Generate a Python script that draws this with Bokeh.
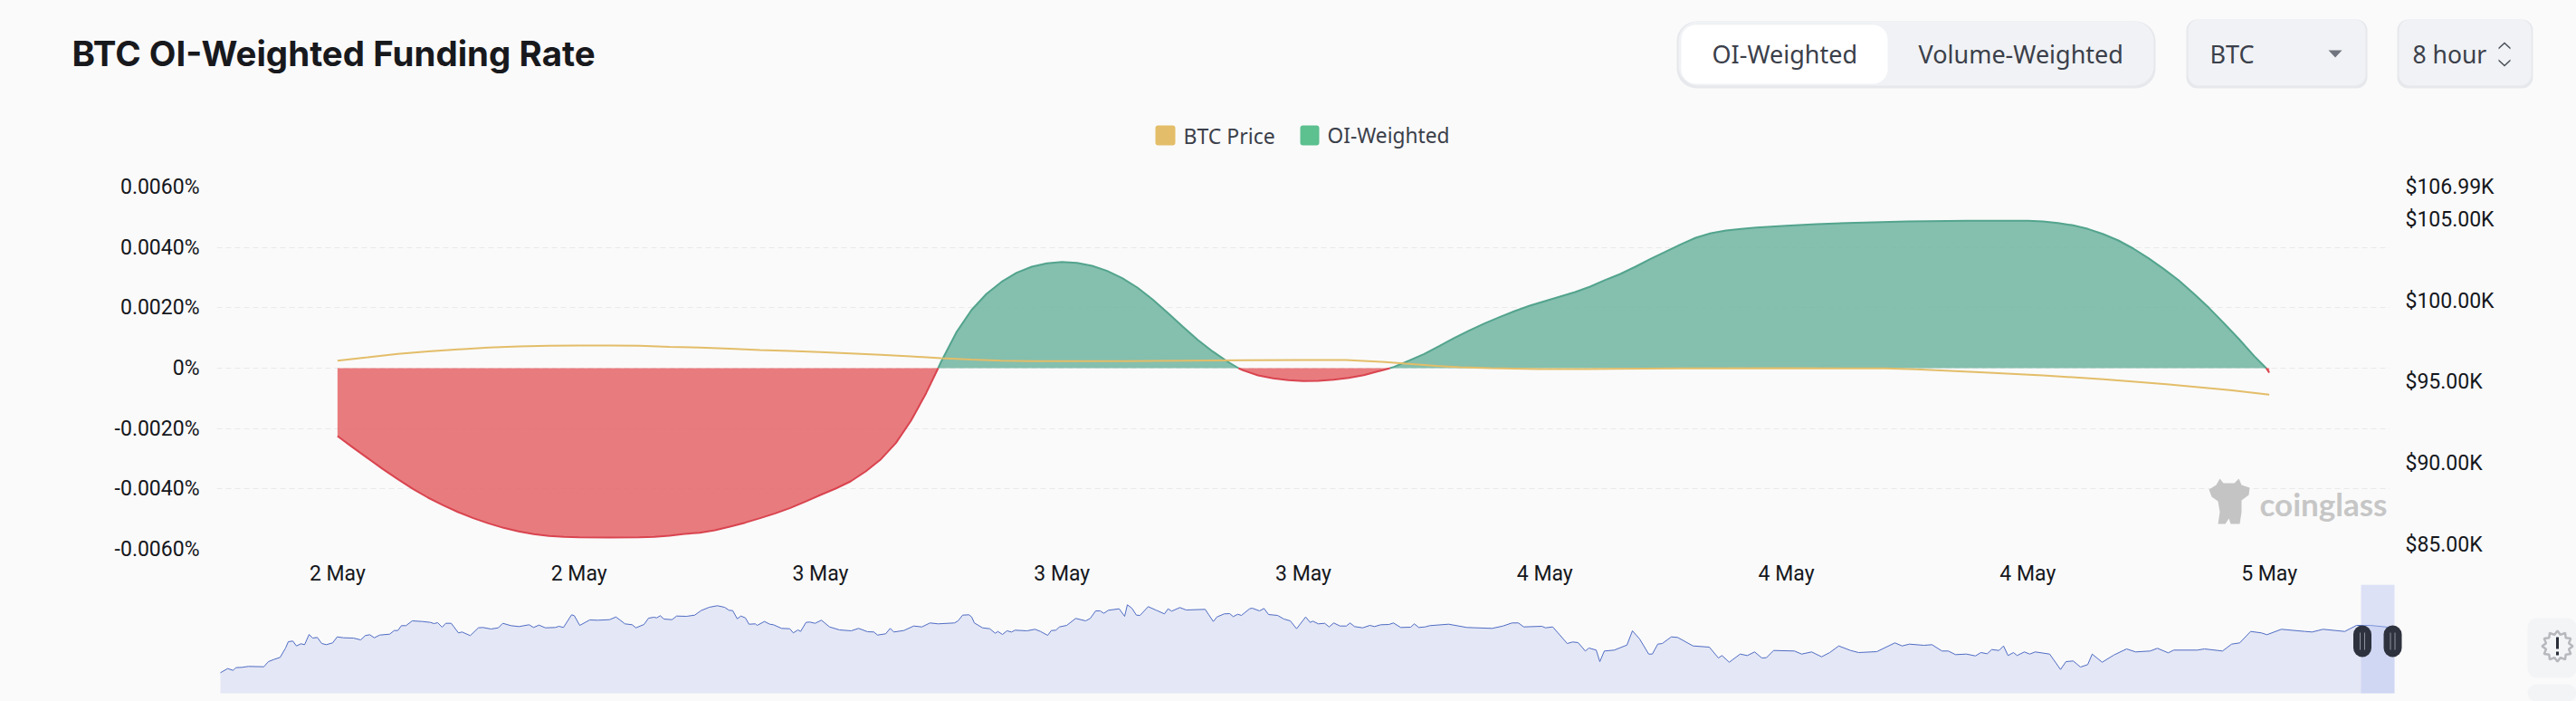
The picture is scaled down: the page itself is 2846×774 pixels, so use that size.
import numpy as np
from bokeh.embed import file_html
from bokeh.layouts import column
from bokeh.models import BoxAnnotation, FixedTicker, Label, LinearAxis, PolyAnnotation, Range1d
from bokeh.plotting import figure
from bokeh.resources import INLINE

# funding rate, hours since the first bar (8h per tick)
funding_hours = [0, .5, 1, 1.5, 2, 2.5, 3, 3.5, 4, 4.5, 5, 5.5, 6, 6.5, 7, 7.5, 8, 9, 10, 10.5, 11, 11.5, 12, 12.5, 13,
                 13.5, 14, 14.5, 15, 15.5, 16, 16.5, 17, 17.5, 18, 18.5, 19, 19.5, 19.9, 20, 20.5, 21, 21.5, 22, 22.5,
                 23, 23.5, 24, 24.5, 25, 25.5, 26, 26.5, 27, 27.5, 28, 28.5, 29, 29.5, 29.85, 30, 30.5, 31, 31.5, 32,
                 32.5, 33, 33.5, 34, 34.5, 34.87, 35, 35.5, 36, 36.5, 37, 37.5, 38, 38.5, 39, 39.5, 40, 40.5, 41, 41.5,
                 42, 42.5, 43, 43.5, 44, 44.5, 45, 45.5, 46, 46.5, 47, 48, 49, 50, 52, 54, 55, 56, 56.5, 57, 57.5, 58,
                 58.5, 59, 59.5, 60, 60.5, 61, 61.5, 62, 62.5, 63, 63.5, 63.9, 64]
funding_rate = [-.00225, -.00262, -.00298, -.00334, -.00368, -.004, -.00429, -.00454, -.00477, -.00497, -.00514,
                -.00529, -.00541, -.0055, -.00556, -.00559, -.0056, -.00561, -.0056, -.00559, -.00555, -.00549, -.00545,
                -.00537, -.00525, -.00512, -.00497, -.00481, -.00463, -.00442, -.0042, -.00399, -.00375, -.00342,
                -.00302, -.00248, -.00174, -.00083, 0, .00022, .00118, .00192, .00246, .00286, .00316, .00336, .00347,
                .00352, .00349, .00339, .00322, .00298, .00267, .00228, .00184, .00138, .00094, .00055, .00021, 0,
                -.00007, -.00024, -.00034, -.0004, -.00043, -.00042, -.00038, -.00032, -.00023, -.0001, 0, .00004,
                .00025, .00047, .00073, .001, .00125, .00148, .00169, .00189, .00207, .00222, .00237, .00252, .0027,
                .00292, .00312, .00336, .00362, .00386, .0041, .00432, .00447, .00456, .00461, .00466, .00472, .00477,
                .00481, .00486, .00488, .00488, .00488, .00486, .00481, .00473, .00461, .00444, .00423, .00396, .00364,
                .00329, .00291, .00247, .002, .00149, .00096, .0004, 0, -.00015]

# BTC price in $K
price_hours = [0, 1, 2, 3, 4, 5, 6, 7, 8, 9, 10, 11, 12, 13, 14, 15, 16, 17, 18, 19, 20, 21, 22, 23, 24, 26, 28, 30, 32,
               33.4, 34.6, 35.4, 36.4, 37.2, 38.2, 39.8, 41.3, 44.4, 48, 51.3, 52.3, 54.4, 56.5, 58.5, 60.6, 62.7, 64]
price_k = [96.32, 96.52, 96.73, 96.88, 97.01, 97.12, 97.19, 97.23, 97.25, 97.25, 97.23, 97.17, 97.12, 97.05, 96.97,
           96.91, 96.84, 96.76, 96.67, 96.58, 96.47, 96.38, 96.32, 96.28, 96.28, 96.28, 96.32, 96.34, 96.36, 96.35,
           96.24, 96.13, 96.0, 95.91, 95.85, 95.8, 95.8, 95.84, 95.85, 95.84, 95.78, 95.6, 95.41, 95.17, 94.87, 94.5,
           94.22]

# overview strip under the chart
mini_t = [0, 8, 14, 17, 24, 31, 48, 53, 59, 66, 72, 75, 80, 84, 89, 93, 98, 102, 107, 112, 117, 124, 129, 136, 147, 155,
          160, 165, 170, 176, 187, 192, 196, 200, 205, 212, 223, 232, 236, 240, 245, 249, 255, 263, 267, 276, 285, 290,
          299, 307, 312, 321, 330, 341, 346, 352, 359, 370, 374, 379, 388, 391, 397, 408, 417, 430, 437, 447, 455, 459,
          468, 473, 479, 482, 486, 490, 499, 504, 515, 524, 531, 540, 549, 557, 562, 566, 571, 575, 580, 584, 591, 593,
          601, 607, 611, 620, 629, 633, 638, 641, 647, 651, 657, 664, 673, 684, 697, 705, 715, 722, 726, 735, 740, 744,
          755, 766, 775, 784, 793, 811, 815, 820, 827, 830, 833, 842, 850, 856, 859, 864, 869, 874, 878, 891, 900, 906,
          914, 918, 923, 927, 935, 945, 956, 961, 967, 972, 976, 981, 993, 999, 1002, 1007, 1012, 1016, 1025, 1034,
          1043, 1047, 1051, 1060, 1067, 1088, 1092, 1097, 1101, 1109, 1115, 1119, 1124, 1128, 1137, 1140, 1148, 1153,
          1158, 1168, 1175, 1182, 1189, 1199, 1204, 1207, 1213, 1220, 1225, 1230, 1237, 1244, 1248, 1253, 1262, 1270,
          1275, 1282, 1291, 1296, 1304, 1315, 1319, 1324, 1331, 1336, 1357, 1377, 1405, 1417, 1427, 1434, 1440, 1460,
          1464, 1472, 1488, 1494, 1500, 1508, 1512, 1520, 1524, 1529, 1540, 1554, 1560, 1568, 1578, 1582, 1588, 1593,
          1603, 1610, 1627, 1645, 1655, 1659, 1667, 1679, 1687, 1695, 1703, 1708, 1716, 1739, 1747, 1758, 1769, 1778,
          1788, 1801, 1810, 1830, 1850, 1858, 1866, 1882, 1891, 1902, 1909, 1917, 1929, 1939, 1945, 1952, 1957, 1965,
          1970, 1975, 1981, 1985, 1993, 1999, 2005, 2021, 2033, 2039, 2047, 2055, 2063, 2068, 2079, 2092, 2106, 2116,
          2132, 2140, 2152, 2158, 2184, 2192, 2212, 2222, 2231, 2243, 2255, 2261, 2277, 2303, 2311, 2323, 2347, 2360,
          2375, 2402]
mini_v = [22.7, 27.3, 25.3, 28.3, 28.7, 29.7, 29.3, 35, 37.3, 39.7, 50, 57, 57.7, 52.3, 54.7, 53.7, 65, 61, 61.7, 55,
          53.7, 55.7, 62.3, 61.3, 61, 59, 63.7, 64.7, 61.3, 64.3, 65.3, 69.3, 69.3, 74.7, 74.7, 80, 79.3, 78.3, 77, 78,
          73, 77.3, 77.3, 66.7, 67.7, 63.7, 72.3, 72.7, 71, 72.3, 77.3, 74.7, 73.7, 75.7, 72.7, 75.3, 72.3, 72.7, 74,
          72.7, 86.7, 85.7, 75, 81, 80.7, 81.3, 84.3, 76.7, 75.7, 72.3, 76, 83, 84, 83.3, 85.7, 82, 81.3, 85.3, 85,
          86.3, 91.3, 95, 96.7, 95, 91.7, 91.3, 82.3, 85.3, 83.3, 76.3, 76.7, 75, 79.3, 76.3, 75.7, 71.7, 71.3, 66.7,
          70, 68.3, 78.3, 78.7, 77.3, 80.7, 73.3, 70, 69, 71.7, 68, 67.7, 64.3, 65.7, 71.7, 67.7, 69.3, 74.3, 73.3,
          77.7, 76.7, 77.7, 80, 86.3, 86.7, 84.3, 77.7, 72.3, 71.3, 66.3, 68.3, 65, 69, 67.7, 69.7, 69, 70.7, 68.3, 64,
          69.3, 69.7, 73.3, 75, 82.7, 80, 82.7, 91, 91, 88.3, 91.7, 93.3, 85, 97.7, 94, 86.3, 86, 95.7, 91.7, 87.7,
          93.3, 90.7, 94.7, 92, 92.7, 86.7, 79.3, 84.3, 87.7, 88, 84.7, 87.3, 86, 93.3, 94, 91, 93.7, 87, 86, 82, 80,
          71.3, 84.3, 78.3, 79.7, 76.7, 77.3, 73.3, 77.7, 74.3, 74.3, 77.7, 73.7, 72.3, 75, 73.7, 75.7, 76, 77.7, 72.7,
          73, 76.7, 72.7, 73.3, 74.7, 76.3, 72.7, 71.7, 74.3, 77.7, 77.7, 73.3, 74, 72.3, 73.3, 55, 56.7, 56, 46.7, 50,
          47.7, 35, 46.7, 47.7, 53.3, 69, 60, 43.3, 43.3, 54.3, 55, 62.3, 61.7, 52.3, 51, 39, 41.7, 34.3, 43.3, 41.7,
          45.7, 39, 39.3, 47.3, 46.7, 43.3, 45.7, 40.3, 45, 52.3, 47.3, 45, 46, 55.7, 52.3, 54.3, 53, 53.7, 46.7, 46.7,
          42.7, 43.3, 41.3, 45, 43.7, 48.3, 47.3, 52.3, 41.7, 45, 41.7, 45.7, 43.3, 45.7, 43.3, 26.3, 35, 35.7, 29,
          31.7, 43.3, 34.3, 42.3, 49, 45.7, 46.7, 49.7, 44.7, 47.7, 47.7, 49, 46.7, 54.3, 55.7, 68.3, 66.7, 64.7, 70.7,
          68.3, 67.7, 70.7, 68.3, 75, 75, 72.3]

date_ticks = [0, 8, 16, 24, 32, 40, 48, 56, 64]
date_labels = ["2 May", "2 May", "3 May", "3 May", "3 May", "4 May", "4 May", "4 May", "5 May"]
rate_ticks = [-0.006, -0.004, -0.002, 0, 0.002, 0.004, 0.006]
rate_labels = ["-0.0060%", "-0.0040%", "-0.0020%", "0%", "0.0020%", "0.0040%", "0.0060%"]
price_ticks = [85, 90, 95, 100, 105, 106.99]
price_labels = ["$85.00K", "$90.00K", "$95.00K", "$100.00K", "$105.00K", "$106.99K"]

BG = "#fafafa"
TICK_FONT = "Roboto"
UI_FONT = "Noto Sans"

hours = np.array(funding_hours)
rate = np.array(funding_rate)


def box(fig, x0, x1, y0, y1, color, radius=0, alpha=1.0):
    fig.add_layout(BoxAnnotation(left=x0, right=x1, top=y0, bottom=y1,
                                 left_units="canvas", right_units="canvas", top_units="canvas", bottom_units="canvas",
                                 fill_color=color, fill_alpha=alpha, line_color=None, border_radius=radius))


def text(fig, x, y, s, size, color, font=UI_FONT, style="normal"):
    fig.add_layout(Label(x=x, y=y, x_units="canvas", y_units="canvas", text=s, text_font=font, text_font_size=size,
                         text_color=color, text_font_style=style, text_baseline="middle"))


def poly(fig, xs, ys, color):
    fig.add_layout(PolyAnnotation(xs=xs, ys=ys, xs_units="canvas", ys_units="canvas", fill_color=color, fill_alpha=1,
                                  line_color=None))


# header strip: title, switches, legend
head = figure(width=2846, height=192, output_backend="svg", toolbar_location=None, x_axis_type=None, y_axis_type=None,
              x_range=Range1d(0, 2846), y_range=Range1d(0, 192), frame_align=False,
              min_border_left=0, min_border_right=0, min_border_top=0, min_border_bottom=0)
head.background_fill_color = BG
head.border_fill_color = BG
head.outline_line_color = None
head.grid.visible = False

text(head, 79, 58, "BTC OI-Weighted Funding Rate", "38.5px", "#18191d", "Inter", "bold")

box(head, 1852, 2381, 23, 97, "#e6e8ec", 22)
box(head, 1854, 2379, 23, 94, "#f0f2f5", 22)
box(head, 1857, 2085, 27, 92, "#ffffff", 16)
text(head, 1891, 59, "OI-Weighted", "27px", "#3b404a")
text(head, 2119, 59, "Volume-Weighted", "27px", "#3b404a")

box(head, 2415, 2615, 21, 97, "#e6e8ec", 12)
box(head, 2417, 2613, 21, 94, "#f0f2f5", 12)
text(head, 2441, 59, "BTC", "27px", "#3b404a")
poly(head, [2572, 2587, 2579.5], [55, 55, 63], "#70747e")

box(head, 2648, 2798, 21, 97, "#e6e8ec", 12)
box(head, 2650, 2796, 21, 94, "#f0f2f5", 12)
text(head, 2665, 59, "8 hour", "26.5px", "#3b404a")
poly(head, [2760, 2766.5, 2773, 2773, 2766.5, 2760], [54, 48, 54, 52, 46, 52], "#4c505a")
poly(head, [2760, 2766.5, 2773, 2773, 2766.5, 2760], [65, 71, 65, 67, 73, 67], "#4c505a")

box(head, 1276, 1298, 138, 160, "#e3bd69", 3)
text(head, 1307, 149, "BTC Price", "23px", "#3b404a")
box(head, 1436, 1457, 138, 160, "#5cc08f", 3)
text(head, 1466, 149, "OI-Weighted", "22.7px", "#3b404a")

# main chart
p = figure(width=2846, frame_width=2401, frame_height=400, output_backend="svg", toolbar_location=None,
           x_range=Range1d(-4, 68), y_range=Range1d(-0.006, 0.006), frame_align=False,
           min_border_left=239, min_border_right=206, min_border_top=14, min_border_bottom=50)
p.background_fill_color = BG
p.border_fill_color = BG
p.outline_line_color = None

p.xgrid.visible = False
p.ygrid.ticker = FixedTicker(ticks=rate_ticks)
p.ygrid.grid_line_color = "#e9e9e9"
p.ygrid.grid_line_dash = [6, 4]

p.xaxis.ticker = FixedTicker(ticks=date_ticks)
p.xaxis.major_label_overrides = dict(zip(date_ticks, date_labels))
p.yaxis.ticker = FixedTicker(ticks=rate_ticks)
p.yaxis.major_label_overrides = dict(zip(rate_ticks, rate_labels))

p.extra_y_ranges = {"price": Range1d(84.72, 106.99)}
price_axis = LinearAxis(y_range_name="price", ticker=FixedTicker(ticks=price_ticks),
                        major_label_overrides=dict(zip(price_ticks, price_labels)))
p.add_layout(price_axis, "right")

for ax in [p.xaxis[0], p.yaxis[0], price_axis]:
    ax.axis_line_color = None
    ax.major_tick_line_color = None
    ax.minor_tick_line_color = None
    ax.major_tick_out = 0
    ax.major_label_text_font = TICK_FONT
    ax.major_label_text_font_size = "23px"
    ax.major_label_text_color = "#15171c"
    ax.major_label_standoff = 17
p.xaxis[0].major_label_standoff = 13
p.yaxis[0].major_label_standoff = 19

# areas split at zero, price on top
p.varea(x=hours, y1=0, y2=np.maximum(rate, 0), fill_color="#78b8a5", fill_alpha=0.9)
p.varea(x=hours, y1=0, y2=np.minimum(rate, 0), fill_color="#e56d70", fill_alpha=0.9)
p.line(hours, np.where(rate >= 0, rate, np.nan), line_color="#53a48d", line_width=2)
p.line(hours, np.where(rate <= 0, rate, np.nan), line_color="#d9444f", line_width=2)
p.line(price_hours, price_k, y_range_name="price", line_color="#e3bd69", line_width=2)

# watermark
mascot_x = [2452, 2456, 2468, 2473, 2476, 2485, 2484, 2476, 2476, 2474, 2464, 2462, 2458, 2450, 2452, 2450, 2443, 2440, 2448]
mascot_y = [336, 341, 341, 336, 343, 346, 354, 360, 373, 386, 386, 380, 386, 386, 373, 361, 356, 348, 343]
poly(p, mascot_x, mascot_y, "#c4c4c4")
text(p, 2496, 363, "coinglass", "35px", "#c6c6c6", "Lato", "bold")

# overview strip
mini = figure(width=2846, height=129, output_backend="svg", toolbar_location=None,
              x_axis_type=None, y_axis_type=None, margin=(-11, 0, 0, 0), frame_align=False,
              x_range=Range1d(-243, 2603), y_range=Range1d(-9, 120),
              min_border_left=0, min_border_right=0, min_border_top=0, min_border_bottom=0)
mini.background_fill_alpha = 0
mini.border_fill_alpha = 0
mini.outline_line_color = None
mini.grid.visible = False
mini.varea(x=mini_t, y1=0, y2=mini_v, fill_color="#e4e7f5")
mini.line(mini_t, mini_v, line_color="#4f6cc4", line_width=1)

select_start = 2365
select_end = 2402
mini.add_layout(BoxAnnotation(left=select_start, right=select_end, top=120, bottom=0,
                              fill_color="#b9c3f2", fill_alpha=0.45, line_color=None))

for cx in [2609.5, 2643]:
    box(mini, cx - 10, cx + 10, 45, 80, "#2e323e", 10)
    box(mini, cx - 3, cx - 2, 53, 72, "#8d91a0")
    box(mini, cx + 2, cx + 3, 53, 72, "#8d91a0")

# side buttons
box(mini, 2792, 2846, 37, 103, "#f3f4f6", 10)
box(mini, 2792, 2846, 110, 129, "#f3f4f6", 10)
angles = np.linspace(0, 2 * np.pi, 24, endpoint=False)
radii = np.where(np.arange(24) % 2 == 0, 17, 13)
mini.add_layout(PolyAnnotation(xs=list(2825 + radii * np.cos(angles)), ys=list(68 + radii * np.sin(angles)),
                               xs_units="canvas", ys_units="canvas", fill_alpha=0, line_color="#2a2e38", line_width=2.5))
box(mini, 2823.5, 2826.5, 58, 71, "#2a2e38")
box(mini, 2823.5, 2826.5, 74, 78, "#2a2e38")

page = column(head, p, mini, spacing=0)
template = "{% block preamble %}<style>html,body{margin:0;background:" + BG + ";overflow:hidden}</style>{% endblock %}"
open("out.html", "w").write(file_html(page, INLINE, template=template))
